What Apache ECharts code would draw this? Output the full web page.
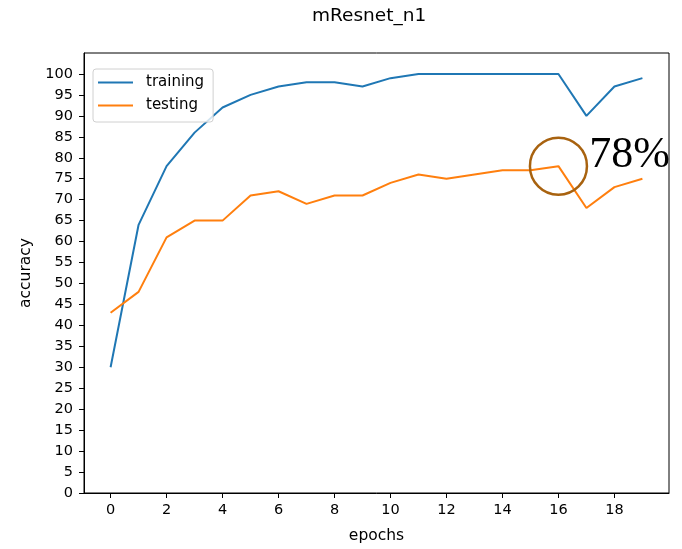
<!DOCTYPE html>
<html>
<head>
<meta charset="utf-8">
<script src="https://cdn.jsdelivr.net/npm/echarts@6/dist/echarts.min.js"></script>
<style>html,body{margin:0;padding:0;background:#fff;}#c{width:682px;height:549px;}</style>
</head>
<body>
<div id="c"></div>
<script>
var epochs = [0,1,2,3,4,5,6,7,8,9,10,11,12,13,14,15,16,17,18,19];
var training = [30,64,78,86,92,95,97,98,98,97,99,100,100,100,100,100,100,90,97,99];
var testing = [43,48,61,65,65,71,72,69,71,71,74,76,75,76,77,77,78,68,73,75];
var xTicks = [0,2,4,6,8,10,12,14,16,18];
var yTicks = [0,5,10,15,20,25,30,35,40,45,50,55,60,65,70,75,80,85,90,95,100];
var highlight = {epoch: 16, value: 78, label: '78%'};

function pairs(xs, ys){ return xs.map(function(x,i){ return [x, ys[i]]; }); }

var chart = echarts.init(document.getElementById('c'), null, {renderer:'canvas'});
var font = 'DejaVu Sans';
chart.setOption({
  animation: false,
  backgroundColor: '#fff',
  title: {
    text: 'mResnet_n1', left: 307, top: 2,
    textStyle: {fontFamily: font, fontSize: 18.5, fontWeight: 'normal', color: '#000'}
  },
  grid: {left: 84, right: 13, top: 53, bottom: 55, show: true, borderColor: '#000', borderWidth: 1, backgroundColor: 'transparent'},
  legend: {
    orient: 'vertical', left: 93, top: 69,
    padding: [6, 9, 9, 5], itemGap: 8,
    itemWidth: 35, itemHeight: 15,
    borderColor: '#d0d0d0', borderWidth: 1, borderRadius: 3,
    backgroundColor: 'rgba(255,255,255,0.8)',
    textStyle: {fontFamily: font, fontSize: 15, color: '#000', padding: [0,0,0,8]},
    data: [
      {name: 'training', icon: 'path://M0,0 L35,0 L35,2 L0,2 Z'},
      {name: 'testing', icon: 'path://M0,0 L35,0 L35,2 L0,2 Z'}
    ]
  },
  xAxis: {
    type: 'value', min: -0.95, max: 19.95,
    name: 'epochs', nameLocation: 'middle', nameGap: 35,
    nameTextStyle: {fontFamily: font, fontSize: 15.5, color: '#000'},
    axisLine: {show: true, onZero: false, lineStyle: {color: '#000', width: 1}},
    axisTick: {show: true, inside: false, customValues: xTicks, length: 5, lineStyle: {color: '#000'}},
    axisLabel: {customValues: xTicks, fontFamily: font, fontSize: 14.5, color: '#000', margin: 10},
    splitLine: {show: false}
  },
  yAxis: {
    type: 'value', min: 0, max: 105,
    name: 'accuracy', nameLocation: 'middle', nameGap: 47,
    nameTextStyle: {fontFamily: font, fontSize: 15.5, color: '#000'},
    axisLine: {show: true, onZero: false, lineStyle: {color: '#000', width: 1}},
    axisTick: {show: true, inside: false, customValues: yTicks, length: 5, lineStyle: {color: '#000'}},
    axisLabel: {customValues: yTicks, fontFamily: font, fontSize: 14.5, color: '#000', margin: 11},
    splitLine: {show: false}
  },
  series: [
    {
      name: 'training', type: 'line', data: pairs(epochs, training),
      showSymbol: false, symbol: 'none', color: '#1f77b4',
      lineStyle: {width: 2, color: '#1f77b4'}
    },
    {
      name: 'testing', type: 'line', data: pairs(epochs, testing),
      showSymbol: false, symbol: 'none', color: '#ff7f0e',
      lineStyle: {width: 2, color: '#ff7f0e'},
      markPoint: {
        silent: true,
        data: [{
          coord: [highlight.epoch, highlight.value],
          symbol: 'circle', symbolSize: 57,
          itemStyle: {color: 'rgba(0,0,0,0)', borderColor: '#a8620f', borderWidth: 2.5},
          label: {
            show: true, position: 'right', distance: 1, offset: [0, -11],
            formatter: highlight.label,
            fontFamily: 'Liberation Serif', fontSize: 44, color: '#000'
          }
        }]
      }
    }
  ]
});
</script>
</body>
</html>
